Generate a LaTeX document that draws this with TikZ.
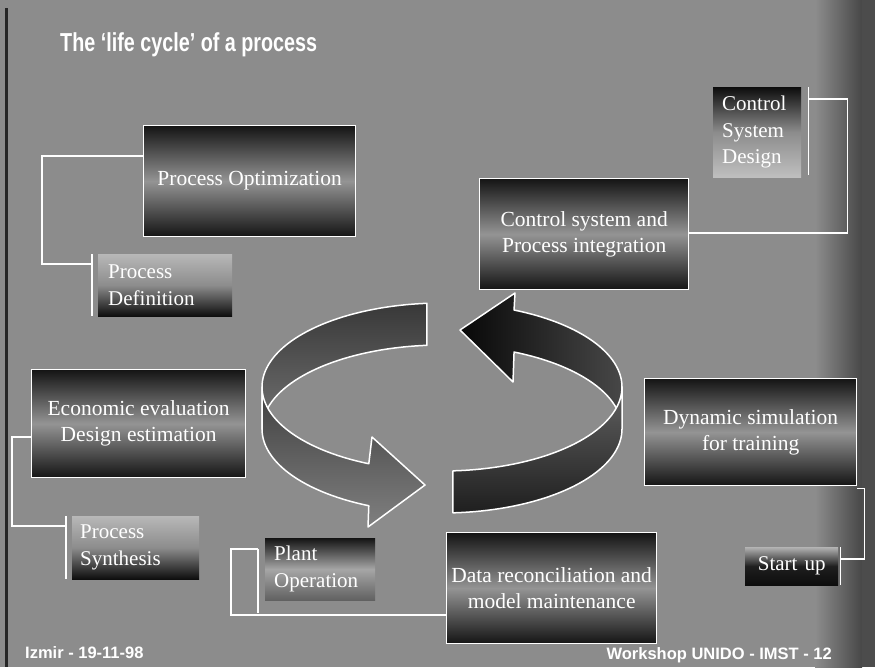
\documentclass[tikz,border=0pt]{standalone}
\usepackage{fontspec}
\setmainfont{Liberation Serif}
\newfontfamily\headfont{Liberation Sans}
\usetikzlibrary{calc}
\definecolor{bg}{gray}{0.55}
\begin{document}
\begin{tikzpicture}[x=1pt,y=-1pt,
  bigbox/.style={draw=white, line width=1.3pt, top color=black!92, bottom color=black!92, middle color=black!42,
    text=white, font=\fontsize{21.5}{26}\selectfont, align=center, inner sep=0pt, anchor=north west},
  smallbox/.style={inner ysep=0pt, anchor=north west, text=white, font=\fontsize{21}{27}\selectfont, align=left},
  lightdark/.style={top color=black!28, bottom color=black!95, middle color=black!45},
  darklight/.style={top color=black!95, bottom color=black!25, middle color=black!45},
  link/.style={draw=white, line width=1.2pt},
  ring/.style={draw=white, line width=1.5pt, line join=round},
  headtext/.style={font=\headfont\bfseries\fontsize{26}{30}\selectfont, inner sep=0pt, text=white},
  foottext/.style={font=\headfont\bfseries\fontsize{16.5}{19}\selectfont, inner sep=0pt, text=white}]
\useasboundingbox (0,0) rectangle (875,667);
% background
\fill[bg] (0,0) rectangle (875,667);
\shade[left color=bg, right color=black!72] (815,0) rectangle (862,667);
\fill[black!70] (862,0) rectangle (875,667);
\fill[black!85] (5,8) rectangle (8,667);

% title
\node[headtext, anchor=base west] (title) at (60,51) {\scalebox{0.76}[1]{The ‘life cycle’ of a process}};

% big boxes
\node[bigbox, minimum width=212pt, minimum height=111pt] (po) at (143,125) {Process Optimization};
\node[bigbox, minimum width=209pt, minimum height=111pt] (cs) at (479,178) {Control system and\\Process integration};
\node[bigbox, minimum width=214pt, minimum height=108pt] (ee) at (31,369) {Economic evaluation\\Design estimation};
\node[bigbox, minimum width=212pt, minimum height=107pt] (ds) at (644,378) {Dynamic simulation\\for training};
\node[bigbox, minimum width=210pt, minimum height=111pt] (dr) at (446,532) {Data reconciliation and\\model maintenance};

% small boxes
\node[smallbox, lightdark, inner xsep=10pt, text width=114pt, minimum height=62pt] (pd) at (98,254) {Process\\Definition};
\node[smallbox, darklight, inner xsep=9pt, text width=70pt, minimum height=90pt, font=\fontsize{21}{26.5}\selectfont] (csd) at (713,87) {Control\\System\\Design};
\node[smallbox, lightdark, inner xsep=8pt, text width=111pt, minimum height=63pt] (psy) at (72,516) {Process\\Synthesis};
\node[smallbox, top color=black!92, bottom color=black!62, middle color=black!35, inner xsep=9pt, text width=92pt, minimum height=62pt] (pl) at (265,538) {Plant\\Operation};
\node[smallbox, top color=black!30, bottom color=black!95, middle color=black!88, inner xsep=0pt, text width=93pt, minimum height=38pt, align=center] (su) at (745,547) {Start up};

% connectors
\draw[link] ($(po.north west)+(0,31)$) -| ($(pd.north west)+(-56,10)$) -- ($(pd.north west)+(-6,10)$);
\draw[link] ($(pd.north west)+(-6,0)$) -- ($(pd.south west)+(-6,0)$);

\draw[link] ($(ee.north west)+(0,68)$) -| ($(psy.north west)+(-60,10)$) -- ($(psy.north west)+(-6,10)$);
\draw[link] ($(psy.north west)+(-6,0)$) -- ($(psy.south west)+(-6,0)$);

\draw[link] ($(csd.north east)+(7,0)$) -- ($(csd.south east)+(7,-2)$);
\draw[link] ($(csd.north east)+(7,12)$) -- ($(csd.north east)+(46,12)$) |- ($(cs.north east)+(0,55)$);

\draw[link] ($(pl.north west)+(-7,11)$) -- ($(pl.south west)+(-7,13)$);
\draw[link] ($(pl.north west)+(-7,11)$) -- ($(pl.north west)+(-34,11)$) |- ($(dr.north west)+(0,83)$);

\draw[link] ($(ds.south east)+(0,2)$) -- ($(ds.south east)+(7,2)$) |- ($(su.north east)+(2,12)$);
\draw[link] ($(su.north east)+(2,0)$) -- ($(su.south east)+(2,0)$);

% cycle arrows: back faces
\path[ring, top color=black!78, bottom color=black!55]
  plot[domain=94.8:180,samples=40] ({442+180*cos(\x)},{387-84*sin(\x)})
  -- plot[domain=180:94.8,samples=40] ({442+180*cos(\x)},{429-84*sin(\x)}) -- cycle;
\path[ring, left color=black!97, right color=black!72]
  plot[domain=0:66.4,samples=40] ({442+180*cos(\x)},{387-84*sin(\x)})
  -- (515,293) -- (460,330) -- (513,382)
  -- plot[domain=66.4:0,samples=40] ({442+180*cos(\x)},{429-84*sin(\x)}) -- cycle;
% front faces
\path[ring, top color=black!75, bottom color=black!50]
  plot[domain=180:246,samples=30] ({442+180*cos(\x)},{387-84*sin(\x)})
  -- (372,437) -- (425,485) -- (368,527)
  -- plot[domain=246:180,samples=30] ({442+180*cos(\x)},{429-84*sin(\x)}) -- cycle;
\path[ring, top color=black!62, bottom color=black!88]
  plot[domain=-86.5:0,samples=40] ({442+180*cos(\x)},{387-84*sin(\x)})
  -- plot[domain=0:-86.5,samples=40] ({442+180*cos(\x)},{429-84*sin(\x)}) -- cycle;

% footer
\node[foottext, anchor=base west] (f1) at (25,658) {Izmir - 19-11-98};
\node[foottext, anchor=base east] (f2) at (832,659) {Workshop UNIDO - IMST - 12};
\end{tikzpicture}
\end{document}
